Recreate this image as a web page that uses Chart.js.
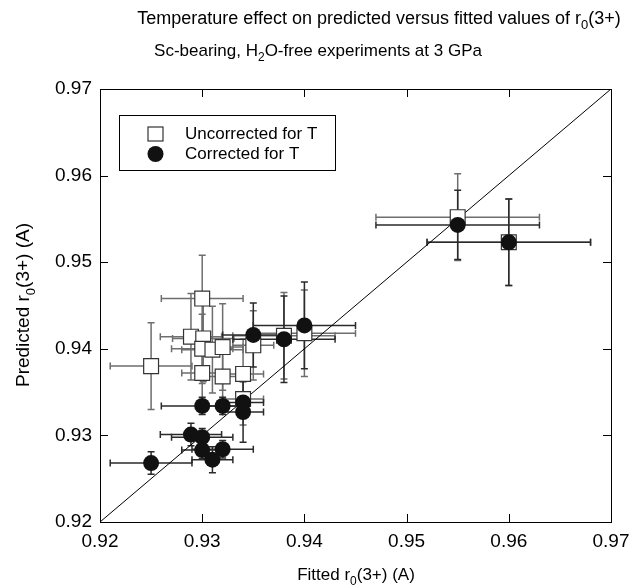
<!DOCTYPE html>
<html>
<head>
<meta charset="utf-8">
<script src="https://cdn.jsdelivr.net/npm/chart.js@4.4.1/dist/chart.umd.min.js"></script>
<style>
  html, body { margin: 0; padding: 0; background: #fff; }
  #wrap { width: 632px; height: 587px; }
</style>
</head>
<body>
<div id="wrap"><canvas id="chart" width="632" height="587"></canvas></div>
<script>
// Uncorrected for T (open squares)
const fittedU = [0.925, 0.930, 0.9289, 0.9301, 0.930, 0.931, 0.932, 0.930, 0.932, 0.934, 0.934, 0.935, 0.938, 0.940, 0.955, 0.960];
const predictedU = [0.9380, 0.9458, 0.9414, 0.9412, 0.9400, 0.9399, 0.9402, 0.9372, 0.9368, 0.9371, 0.9342, 0.9404, 0.9415, 0.9418, 0.9552, 0.9523];
const fittedErrU = [0.004, 0.004, 0.003, 0.003, 0.003, 0.003, 0.002, 0.002, 0.002, 0.002, 0.002, 0.002, 0.005, 0.005, 0.008, 0.008];
const predictedErrU = [0.005, 0.005, 0.005, 0.005, 0.004, 0.005, 0.005, 0.004, 0.004, 0.004, 0.003, 0.004, 0.005, 0.005, 0.005, 0.005];

// Corrected for T (filled circles)
const fittedC = [0.925, 0.930, 0.932, 0.934, 0.934, 0.9289, 0.930, 0.930, 0.931, 0.932, 0.935, 0.938, 0.940, 0.955, 0.960];
const predictedC = [0.9268, 0.9334, 0.9334, 0.9338, 0.9327, 0.9301, 0.9298, 0.9283, 0.9272, 0.9284, 0.9416, 0.9411, 0.9427, 0.9543, 0.9523];
const fittedErrC = [0.004, 0.004, 0.002, 0.002, 0.002, 0.003, 0.003, 0.002, 0.002, 0.003, 0.003, 0.005, 0.005, 0.008, 0.008];
const predictedErrC = [0.0013, 0.001, 0.001, 0.001, 0.0035, 0.0013, 0.001, 0.001, 0.0015, 0.001, 0.0037, 0.005, 0.005, 0.004, 0.005];

// 1:1 line and axis ticks
const oneToOne = [0.92, 0.97];
const tickValues = [0.92, 0.93, 0.94, 0.95, 0.96, 0.97];

const FONT = '"Liberation Sans", Arial, Helvetica, sans-serif';

const uncorrected = fittedU.map((x, i) => ({ x: x, y: predictedU[i], xe: fittedErrU[i], ye: predictedErrU[i] }));
const corrected = fittedC.map((x, i) => ({ x: x, y: predictedC[i], xe: fittedErrC[i], ye: predictedErrC[i] }));

// draw text with subscript parts, e.g. [['r'], ['0', true], ['(3+)']]
function richText(ctx, parts, x, y, size) {
  const sub = Math.round(size * 0.7);
  let total = 0;
  parts.forEach(p => {
    ctx.font = (p[1] ? sub : size) + 'px ' + FONT;
    total += ctx.measureText(p[0]).width;
  });
  let cx = x - total / 2;
  ctx.textAlign = 'left';
  ctx.textBaseline = 'alphabetic';
  parts.forEach(p => {
    ctx.font = (p[1] ? sub : size) + 'px ' + FONT;
    ctx.fillText(p[0], cx, p[1] ? y + size * 0.3 : y);
    cx += ctx.measureText(p[0]).width;
  });
}

function drawErrors(ctx, xs, ys, pts, color) {
  ctx.strokeStyle = color;
  ctx.lineWidth = 1.5;
  const cap = 3.5;
  pts.forEach(p => {
    const px = xs.getPixelForValue(p.x), py = ys.getPixelForValue(p.y);
    const x1 = xs.getPixelForValue(p.x - p.xe), x2 = xs.getPixelForValue(p.x + p.xe);
    const y1 = ys.getPixelForValue(p.y - p.ye), y2 = ys.getPixelForValue(p.y + p.ye);
    ctx.beginPath();
    ctx.moveTo(x1, py); ctx.lineTo(x2, py);
    ctx.moveTo(x1, py - cap); ctx.lineTo(x1, py + cap);
    ctx.moveTo(x2, py - cap); ctx.lineTo(x2, py + cap);
    ctx.moveTo(px, y1); ctx.lineTo(px, y2);
    ctx.moveTo(px - cap, y1); ctx.lineTo(px + cap, y1);
    ctx.moveTo(px - cap, y2); ctx.lineTo(px + cap, y2);
    ctx.stroke();
  });
}

const decorations = {
  id: 'decorations',
  beforeDatasetsDraw(chart) {
    const ctx = chart.ctx, xs = chart.scales.x, ys = chart.scales.y;
    ctx.save();
    drawErrors(ctx, xs, ys, uncorrected, '#6e6e6e');
    drawErrors(ctx, xs, ys, corrected, '#2a2a2a');
    ctx.restore();
  },
  afterDatasetsDraw(chart) {
    const ctx = chart.ctx, a = chart.chartArea, xs = chart.scales.x, ys = chart.scales.y;
    ctx.save();
    // frame
    ctx.strokeStyle = '#000';
    ctx.lineWidth = 1;
    ctx.strokeRect(a.left + 0.5, a.top + 0.5, a.right - a.left, a.bottom - a.top);
    // inward ticks on all sides
    const len = 8;
    ctx.beginPath();
    tickValues.forEach(v => {
      const px = Math.round(xs.getPixelForValue(v)) + 0.5;
      ctx.moveTo(px, a.bottom); ctx.lineTo(px, a.bottom - len);
      ctx.moveTo(px, a.top); ctx.lineTo(px, a.top + len);
      const py = Math.round(ys.getPixelForValue(v)) + 0.5;
      ctx.moveTo(a.left, py); ctx.lineTo(a.left + len, py);
      ctx.moveTo(a.right, py); ctx.lineTo(a.right - len, py);
    });
    ctx.stroke();

    // legend
    ctx.fillStyle = '#fff';
    ctx.fillRect(119.5, 115.5, 216, 55);
    ctx.strokeStyle = '#000';
    ctx.strokeRect(119.5, 115.5, 216, 55);
    ctx.strokeStyle = '#333';
    ctx.lineWidth = 1.2;
    ctx.fillStyle = '#fff';
    ctx.fillRect(148, 127, 15, 14);
    ctx.strokeRect(148, 127, 15, 14);
    ctx.fillStyle = '#111';
    ctx.beginPath();
    ctx.arc(155.5, 154, 8, 0, Math.PI * 2);
    ctx.fill();
    ctx.fillStyle = '#000';
    ctx.font = '17px ' + FONT;
    ctx.textAlign = 'left';
    ctx.textBaseline = 'middle';
    ctx.fillText('Uncorrected for T', 185, 134);
    ctx.fillText('Corrected for T', 185, 154);

    // titles
    richText(ctx, [['Temperature effect on predicted versus fitted values of r'], ['0', true], ['(3+)']], 379, 24, 18);
    richText(ctx, [['Sc-bearing, H'], ['2', true], ['O-free experiments at 3 GPa']], 318, 56, 17);
    // axis titles
    richText(ctx, [['Fitted r'], ['0', true], ['(3+) (A)']], 356, 580, 17);
    ctx.translate(29, 305);
    ctx.rotate(-Math.PI / 2);
    richText(ctx, [['Predicted r'], ['0', true], ['(3+) (A)']], 0, 0, 19);
    ctx.restore();
  }
};

new Chart(document.getElementById('chart'), {
  type: 'scatter',
  data: {
    datasets: [
      {
        label: 'Corrected for T',
        data: corrected,
        pointStyle: 'circle',
        pointRadius: 8,
        pointBackgroundColor: '#111',
        pointBorderColor: '#111',
        pointBorderWidth: 0,
        order: 1
      },
      {
        label: 'Uncorrected for T',
        data: uncorrected,
        pointStyle: 'rect',
        pointRadius: 10.5,
        pointBackgroundColor: '#fff',
        pointBorderColor: '#333',
        pointBorderWidth: 1.2,
        order: 2
      },
      {
        type: 'line',
        label: '1:1',
        data: oneToOne.map(v => ({ x: v, y: v })),
        borderColor: '#000',
        borderWidth: 1,
        pointRadius: 0,
        order: 3
      }
    ]
  },
  options: {
    responsive: false,
    animation: false,
    devicePixelRatio: 1,
    layout: { padding: { top: 89, right: 21, left: 0, bottom: 0 } },
    plugins: {
      legend: { display: false },
      title: { display: false },
      tooltip: { enabled: false }
    },
    scales: {
      x: {
        type: 'linear',
        min: 0.92,
        max: 0.97,
        grid: { display: false },
        border: { display: false },
        afterBuildTicks: s => { s.ticks = tickValues.map(v => ({ value: v })); },
        afterFit: s => { s.height = 65; s.paddingLeft = 0; s.paddingRight = 0; },
        ticks: {
          padding: 0,
          color: '#000',
          font: { family: FONT, size: 19 },
          callback: v => v.toFixed(2)
        }
      },
      y: {
        type: 'linear',
        min: 0.92,
        max: 0.97,
        grid: { display: false },
        border: { display: false },
        afterBuildTicks: s => { s.ticks = tickValues.map(v => ({ value: v })); },
        afterFit: s => { s.width = 100; s.paddingTop = 0; s.paddingBottom = 0; },
        ticks: {
          padding: 0,
          color: '#000',
          font: { family: FONT, size: 19 },
          callback: v => v.toFixed(2)
        }
      }
    }
  },
  plugins: [decorations]
});
</script>
</body>
</html>
